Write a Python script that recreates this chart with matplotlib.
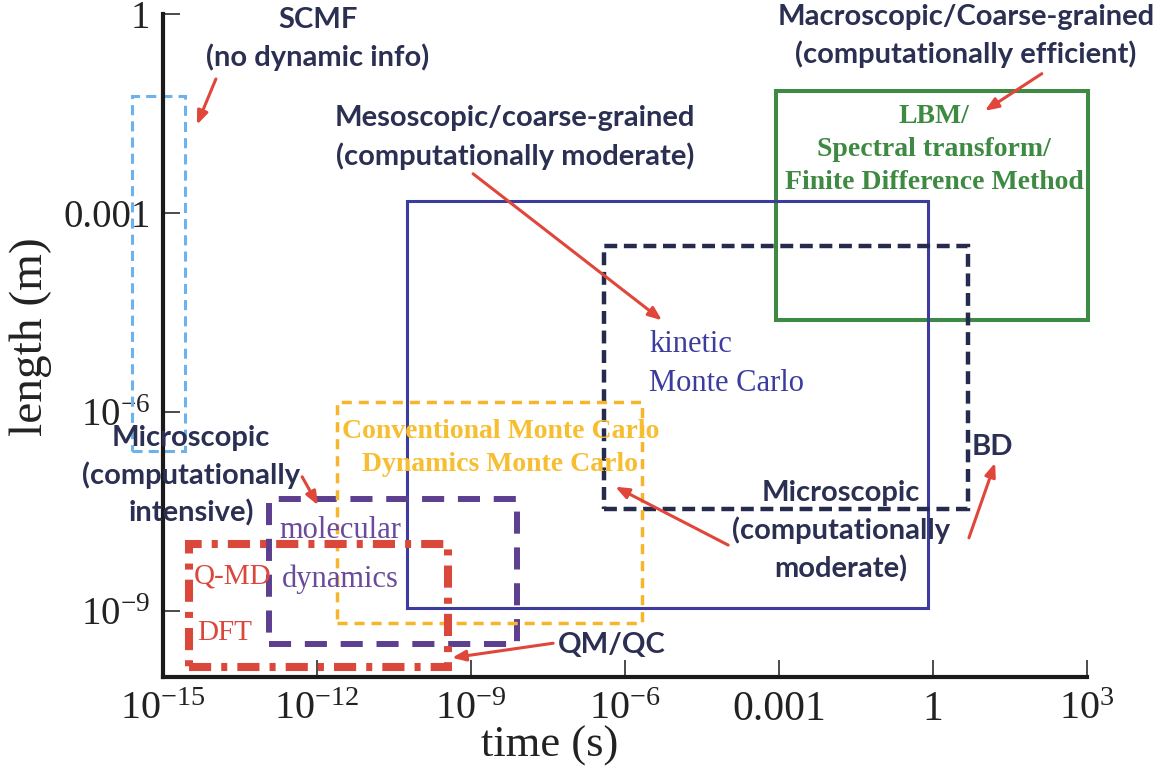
import matplotlib
matplotlib.use("Agg")
import matplotlib.pyplot as plt

plt.rcParams["mathtext.fontset"] = "custom"
plt.rcParams["mathtext.rm"] = "Liberation Serif"
plt.rcParams["mathtext.it"] = "Liberation Serif:italic"
plt.rcParams["font.family"] = "Liberation Serif"

# Simulation methods: time-scale (s) and length-scale (m) ranges
methods = ["SCMF", "kMC", "LBM", "BD", "MC", "MD", "QM"]
t_min = [10**-15.6, 10**-10.25, 10**-3.06, 10**-6.41, 10**-11.61, 10**-12.93, 10**-14.49]
t_max = [10**-14.57, 10**-0.10, 10**3.02, 10**0.68, 10**-5.67, 10**-8.10, 10**-9.45]
L_min = [10**-6.59, 10**-8.96, 10**-4.62, 10**-7.47, 10**-9.19, 10**-9.50, 10**-9.85]
L_max = [10**-1.24, 10**-2.82, 10**-1.16, 10**-3.50, 10**-5.85, 10**-7.32, 10**-7.99]

x_ticks = [1e-15, 1e-12, 1e-9, 1e-6, 1e-3, 1, 1e3]
x_tick_labels = [r"$10^{-15}$", r"$10^{-12}$", r"$10^{-9}$", r"$10^{-6}$", "0.001", "1", r"$10^{3}$"]
y_ticks = [1e-9, 1e-6, 1e-3, 1]
y_tick_labels = [r"$10^{-9}$", r"$10^{-6}$", "0.001", "1"]

NAVY = "#2b2f52"
RED = "#e0463a"

box_styles = {
    "SCMF": dict(color="#6cb2ec", lw=2.2, ls=(0, (3.3, 2.0)), zorder=3),
    "kMC": dict(color="#3b3c9e", lw=2.2, ls="-", zorder=4),
    "LBM": dict(color="#3e8a42", lw=2.9, ls="-", zorder=3),
    "BD": dict(color="#262a4c", lw=3.2, ls=(0, (2.9, 1.5)), zorder=5),
    "MC": dict(color="#f6b52a", lw=2.5, ls=(0, (2.9, 2.0)), zorder=6),
    "MD": dict(color="#5d3f8f", lw=4.3, ls=(0, (3.7, 2.3)), zorder=5),
    "QM": dict(color="#d9483a", lw=5.8, ls=(0, (2.75, 1.25, 0.75, 1.25)), zorder=7),
}

fig = plt.figure(figsize=(11.57, 7.69), dpi=100)
ax = fig.add_axes([0.1409, 0.1196, 0.7986, 0.8622])
ax.set_xscale("log")
ax.set_yscale("log")
ax.set_xlim(1e-15, 1e3)
ax.set_ylim(1e-10, 1)

for name, x0, x1, y0, y1 in zip(methods, t_min, t_max, L_min, L_max):
    st = box_styles[name]
    ax.plot([x0, x1, x1, x0, x0], [y0, y0, y1, y1, y0], color=st["color"],
            lw=st["lw"], ls=st["ls"], zorder=st["zorder"], clip_on=False,
            solid_joinstyle="miter", dash_joinstyle="miter")

# axes frame
for side in ("top", "right"):
    ax.spines[side].set_visible(False)
for side in ("left", "bottom"):
    ax.spines[side].set_linewidth(3.0)
    ax.spines[side].set_color("#1a1a1a")
    ax.spines[side].set_zorder(10)

ax.set_xticks(x_ticks)
ax.set_xticklabels(x_tick_labels)
ax.set_yticks(y_ticks)
ax.set_yticklabels(y_tick_labels)
ax.minorticks_off()
ax.tick_params(axis="both", direction="in", length=12, width=1.1, color="#1a1a1a")
ax.tick_params(axis="x", pad=10)
ax.tick_params(axis="y", pad=9)
for lab, txt in zip(ax.get_xticklabels(), x_tick_labels):
    lab.set_fontsize(29 if txt.startswith("$") else 30)
    lab.set_color("#222222")
for lab in ax.get_yticklabels():
    lab.set_fontsize(28)
    lab.set_color("#222222")

ax.set_xlabel("time (s)", fontsize=32, color="#222222")
ax.xaxis.set_label_coords(0.418, -0.103)
ax.xaxis.label.set_va("center")
ax.set_ylabel("length (m)", fontsize=34, color="#222222")
ax.yaxis.set_label_coords(-0.143, 0.514)
ax.yaxis.label.set_va("center")


def P(a, b):
    return 10.0**a, 10.0**b


sans = dict(family="Lato", fontweight="bold", color=NAVY, fontsize=21,
            ha="center", va="center", zorder=12)

ax.text(*P(-11.98, -0.38), "SCMF\n(no dynamic info)", linespacing=1.48, clip_on=False, **sans)
ax.text(*P(0.64, -0.33), "Macroscopic/Coarse-grained\n(computationally efficient)", linespacing=1.48, clip_on=False, **sans)
ax.text(*P(-8.14, -1.86), "Mesoscopic/coarse-grained\n(computationally moderate)", linespacing=1.48, **sans)
ax.text(*P(-14.45, -6.97), "Microscopic\n(computationally\nintensive)", linespacing=1.46, clip_on=False, **sans)
ax.text(*P(-1.79, -7.80), "Microscopic\n(computationally\nmoderate)", linespacing=1.48, **sans)
ax.text(*P(-6.25, -9.52), "QM/QC", **sans)
ax.text(*P(1.15, -6.53), "BD", **sans)

ax.text(*P(0.02, -2.04), "LBM/\nSpectral transform/\nFinite Difference Method", family="Liberation Serif",
        fontweight="bold", fontsize=20, color="#3e8a42", ha="center", va="center", linespacing=1.41, zorder=12)
ax.text(*P(-5.53, -5.28), "kinetic\nMonte Carlo", fontsize=22, color="#3b3c9e",
        ha="left", va="center", linespacing=1.45, zorder=12)
ax.text(*P(-8.43, -6.55), "Conventional Monte Carlo\nDynamics Monte Carlo", fontweight="bold", fontsize=20,
        color="#f6be30", ha="center", va="center", linespacing=1.42, zorder=12)
ax.text(*P(-11.55, -7.79), "molecular", fontsize=22, color="#6a4a9c", ha="center", va="center", zorder=12)
ax.text(*P(-11.55, -8.52), "dynamics", fontsize=22, color="#6a4a9c", ha="center", va="center", zorder=12)
ax.text(*P(-14.40, -8.49), "Q-MD", fontsize=21, color="#d9483a", ha="left", va="center", zorder=12)
ax.text(*P(-14.33, -9.33), "DFT", fontsize=21, color="#d9483a", ha="left", va="center", zorder=12)

# pointer arrows: (tail, head) in log10 coordinates
arrows = [
    ((-13.97, -0.98), (-14.34, -1.67)),
    ((-8.96, -2.41), (-5.28, -4.62)),
    ((2.12, -0.90), (1.01, -1.46)),
    ((-12.29, -6.98), (-11.98, -7.41)),
    ((-3.99, -8.01), (-6.19, -7.13)),
    ((-7.40, -9.49), (-9.37, -9.71)),
    ((0.70, -7.90), (1.21, -6.77)),
]
for (ta, tb), (ha_, hb) in arrows:
    ax.annotate("", xy=P(ha_, hb), xytext=P(ta, tb),
                arrowprops=dict(arrowstyle="-|>,head_length=0.8,head_width=0.32", color=RED,
                                lw=2.2, shrinkA=0, shrinkB=0),
                annotation_clip=False, zorder=13)

fig.savefig("out.png", dpi=100)
